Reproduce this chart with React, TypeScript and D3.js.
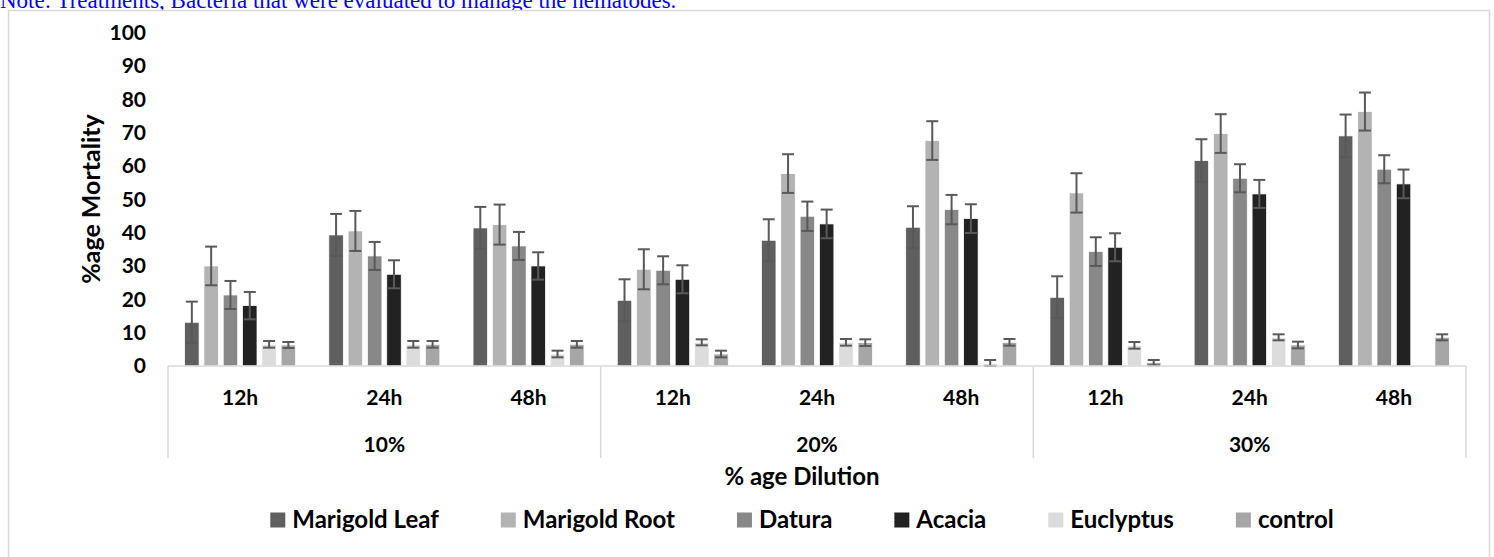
import React, { useEffect, useRef } from "react";
import * as d3 from "d3";

const dilutions = ["10%", "20%", "30%"];
const times = ["12h", "24h", "48h"];
const seriesNames = ["Marigold Leaf", "Marigold Root", "Datura", "Acacia", "Euclyptus", "control"];
const seriesColors = ["#5f5f5f", "#b3b3b3", "#888888", "#222222", "#dcdcdc", "#a6a6a6"];

// order: 10%-12h, 10%-24h, 10%-48h, 20%-12h, ..., 30%-48h
const marigoldLeaf = [13.1, 39.3, 41.4, 19.7, 37.7, 41.6, 20.6, 61.6, 69.0];
const marigoldLeafErr = [6.2, 6.3, 6.3, 6.3, 6.3, 6.3, 6.3, 6.4, 6.4];
const marigoldRoot = [30.0, 40.5, 42.4, 29.0, 57.7, 67.6, 51.9, 69.7, 76.3];
const marigoldRootErr = [5.8, 6.0, 6.0, 6.0, 5.8, 5.8, 5.9, 5.8, 5.7];
const datura = [21.3, 33.0, 36.0, 28.7, 44.9, 46.9, 34.3, 56.3, 59.0];
const daturaErr = [4.2, 4.2, 4.2, 4.2, 4.4, 4.4, 4.3, 4.2, 4.2];
const acacia = [18.1, 27.5, 30.0, 26.0, 42.6, 44.2, 35.6, 51.6, 54.6];
const acaciaErr = [4.1, 4.2, 4.1, 4.2, 4.3, 4.3, 4.2, 4.2, 4.3];
const euclyptus = [6.5, 6.5, 3.6, 7.1, 7.1, 0.8, 6.2, 8.6, null];
const euclyptusErr = [1.0, 1.0, 1.0, 0.9, 1.0, 1.0, 1.0, 0.9, null];
const control = [6.3, 6.5, 6.5, 3.6, 7.0, 7.1, 1.0, 6.3, 8.6];
const controlErr = [0.9, 1.0, 1.0, 1.0, 1.0, 1.0, 0.8, 1.0, 0.9];

const yTicks = [0, 10, 20, 30, 40, 50, 60, 70, 80, 90, 100];
const noteText = "Note: Treatments, Bacteria that were evaluated to manage the nematodes.";
const xTitle = "% age Dilution";
const yTitle = "%age Mortality";

const seriesValues = [marigoldLeaf, marigoldRoot, datura, acacia, euclyptus, control];
const seriesErrors = [marigoldLeafErr, marigoldRootErr, daturaErr, acaciaErr, euclyptusErr, controlErr];

const W = 1494;
const H = 557;
const FONT = "Lato, 'Open Sans', sans-serif";

export default function App() {
  const ref = useRef<SVGSVGElement | null>(null);

  useEffect(() => {
    const svg = d3.select(ref.current);
    svg.selectAll("*").remove();

    const left = 168;
    const right = 1466;
    const y0 = 366;
    const y100 = 32.5;

    const cats: string[] = [];
    dilutions.forEach((d) => times.forEach((t) => cats.push(d + "|" + t)));

    const x = d3.scaleBand<string>().domain(cats).range([left, right]).paddingInner(0).paddingOuter(0);
    const xs = d3
      .scaleBand<string>()
      .domain(seriesNames)
      .range([0, x.bandwidth()])
      .paddingInner(0.25)
      .paddingOuter(0.86);
    const y = d3.scaleLinear().domain([0, 100]).range([y0, y100]);

    // Note text (cut at top)
    svg
      .append("text")
      .attr("x", 0)
      .attr("y", 8)
      .attr("font-family", "'Liberation Serif', 'Times New Roman', serif")
      .attr("font-size", 23)
      .attr("fill", "#0000ff")
      .text(noteText);

    // chart border
    svg
      .append("rect")
      .attr("x", 8.5)
      .attr("y", 10.5)
      .attr("width", 1481)
      .attr("height", 600)
      .attr("fill", "#ffffff")
      .attr("stroke", "#d9d9d9")
      .attr("stroke-width", 1.5);

    // y tick labels
    svg
      .append("g")
      .selectAll("text")
      .data(yTicks)
      .join("text")
      .attr("x", 146)
      .attr("y", (d) => y(d))
      .attr("dy", "0.35em")
      .attr("text-anchor", "end")
      .attr("font-family", FONT)
      .attr("font-weight", 700)
      .attr("font-size", 21)
      .attr("fill", "#000")
      .text((d) => String(d));

    // y title
    svg
      .append("text")
      .attr("transform", `translate(91,${199}) rotate(-90)`)
      .attr("text-anchor", "middle")
      .attr("dy", "0.35em")
      .attr("font-family", FONT)
      .attr("font-weight", 700)
      .attr("font-size", 25)
      .attr("fill", "#000")
      .text(yTitle);

    // bars
    const gBars = svg.append("g");
    seriesNames.forEach((s, si) => {
      const vals = seriesValues[si];
      cats.forEach((c, ci) => {
        const v = vals[ci];
        if (v === null || v === undefined) return;
        gBars
          .append("rect")
          .attr("x", (x(c) as number) + (xs(s) as number))
          .attr("y", y(v))
          .attr("width", xs.bandwidth())
          .attr("height", y0 - y(v))
          .attr("fill", seriesColors[si])
          .attr("stroke", "#ffffff")
          .attr("stroke-width", 0.75);
      });
    });

    // error bars
    const gErr = svg.append("g").attr("stroke", "#595959").attr("stroke-width", 2).attr("fill", "none");
    seriesNames.forEach((s, si) => {
      const vals = seriesValues[si];
      const errs = seriesErrors[si];
      cats.forEach((c, ci) => {
        const v = vals[ci];
        const e = errs[ci];
        if (v === null || v === undefined || e === null || e === undefined) return;
        const cx = (x(c) as number) + (xs(s) as number) + xs.bandwidth() / 2;
        const yt = y(v + e);
        const yb = y(Math.max(0, v - e));
        const cap = 6;
        gErr.append("line").attr("x1", cx).attr("x2", cx).attr("y1", yt).attr("y2", yb);
        gErr.append("line").attr("x1", cx - cap).attr("x2", cx + cap).attr("y1", yt).attr("y2", yt);
        gErr.append("line").attr("x1", cx - cap).attr("x2", cx + cap).attr("y1", yb).attr("y2", yb);
      });
    });

    // category axis lines
    const gAxis = svg.append("g").attr("stroke", "#d9d9d9").attr("stroke-width", 1.5);
    gAxis.append("line").attr("x1", left).attr("x2", right).attr("y1", y0).attr("y2", y0);
    const groupW = (right - left) / dilutions.length;
    const sepXs = d3.range(dilutions.length + 1).map((i) => left + i * groupW);
    sepXs.forEach((sx) => {
      gAxis.append("line").attr("x1", sx).attr("x2", sx).attr("y1", y0).attr("y2", 458);
    });

    // time labels
    svg
      .append("g")
      .selectAll("text")
      .data(cats)
      .join("text")
      .attr("x", (c) => (x(c) as number) + x.bandwidth() / 2)
      .attr("y", 398)
      .attr("dy", "0.35em")
      .attr("text-anchor", "middle")
      .attr("font-family", FONT)
      .attr("font-weight", 700)
      .attr("font-size", 21)
      .attr("fill", "#000")
      .text((c) => c.split("|")[1]);

    // dilution labels
    svg
      .append("g")
      .selectAll("text")
      .data(dilutions)
      .join("text")
      .attr("x", (d, i) => left + groupW * (i + 0.5))
      .attr("y", 445)
      .attr("dy", "0.35em")
      .attr("text-anchor", "middle")
      .attr("font-family", FONT)
      .attr("font-weight", 700)
      .attr("font-size", 21)
      .attr("fill", "#000")
      .text((d) => d);

    // x title
    svg
      .append("text")
      .attr("x", (left + right) / 2 - 15)
      .attr("y", 477)
      .attr("dy", "0.35em")
      .attr("text-anchor", "middle")
      .attr("font-family", FONT)
      .attr("font-weight", 700)
      .attr("font-size", 24)
      .attr("fill", "#000")
      .text(xTitle);

    // legend
    const gLeg = svg.append("g");
    const items = seriesNames.map((s, i) => {
      const g = gLeg.append("g");
      g.append("rect").attr("x", 0).attr("y", -7.5).attr("width", 15).attr("height", 15).attr("fill", seriesColors[i]);
      const t = g
        .append("text")
        .attr("x", 22)
        .attr("y", 0)
        .attr("dy", "0.35em")
        .attr("font-family", FONT)
        .attr("font-weight", 700)
        .attr("font-size", 24)
        .attr("fill", "#000")
        .text(s);
      const w = 22 + (t.node() as SVGTextElement).getComputedTextLength();
      return { g, w };
    });
    const gap = 62;
    const total = d3.sum(items, (d) => d.w) + gap * (items.length - 1);
    let cx = 802 - total / 2;
    items.forEach((it) => {
      it.g.attr("transform", `translate(${cx},520)`);
      cx += it.w + gap;
    });
  }, []);

  return (
    <svg
      ref={ref}
      width={W}
      height={H}
      style={{ position: "absolute", left: 0, top: 0, background: "#fff" }}
    />
  );
}
